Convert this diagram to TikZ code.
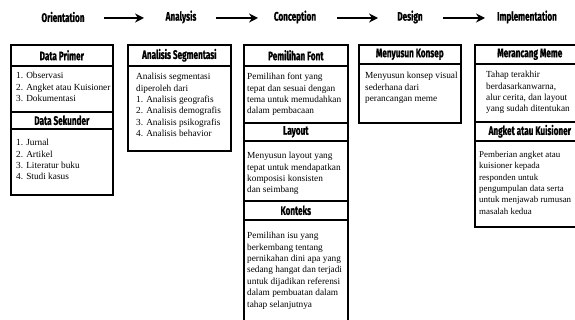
\documentclass[tikz,border=0pt]{standalone}
\usepackage{fontspec}
\setmainfont{Liberation Serif}
\newfontfamily\hdrfont[FakeStretch=0.66,FakeBold=0.8]{Fira Sans}
\usetikzlibrary{arrows.meta}
\tikzset{
  title/.style={font=\hdrfont\bfseries\fontsize{12.4}{13}\selectfont, inner sep=0pt},
  flow/.style={line width=2.2pt, -{Stealth[length=9pt,width=9pt,inset=3pt]}},
  hbox/.style={draw, line width=1.6pt, fill=white, anchor=north west, inner sep=0pt,
     font=\hdrfont\bfseries\fontsize{12.4}{13}\selectfont},
  bbox/.style={draw, line width=1.6pt, anchor=north west, inner sep=0pt},
  btext/.style={anchor=north west, inner sep=0pt, align=left,
     font=\fontsize{9.3}{11.4}\selectfont},
}
\begin{document}
\begin{tikzpicture}[x=1pt,y=-1pt]
\useasboundingbox (0,0) rectangle (575,320);
\clip (0,0) rectangle (575,320);
\fill[white] (0,0) rectangle (575,320);
% top flow
\node[title] (t1) at (63,17) {Orientation};
\node[title] (t2) at (181,17) {Analysis};
\node[title] (t3) at (295,17) {Conception};
\node[title] (t4) at (410,17) {Design};
\node[title] (t5) at (527,17) {Implementation};
\coordinate (a1s) at (104,18); \coordinate (a1e) at (144,18);
\coordinate (a2s) at (216,18); \coordinate (a2e) at (258,18);
\coordinate (a3s) at (337,18); \coordinate (a3e) at (378,18);
\coordinate (a4s) at (443,18); \coordinate (a4e) at (485,18);
\draw[flow] (a1s) -- (a1e);
\draw[flow] (a2s) -- (a2e);
\draw[flow] (a3s) -- (a3e);
\draw[flow] (a4s) -- (a4e);
% column 1
\node[bbox, minimum width=102pt, minimum height=46pt] (b1a) at (10,65) {};
\node[bbox, minimum width=102pt, minimum height=66pt] (b1b) at (10,128) {};
\node[hbox, minimum width=102pt, minimum height=21pt] (h1a) at (10,44) {Data Primer};
\node[hbox, minimum width=102pt, minimum height=17pt] (h1b) at (10,111) {Data Sekunder};
\node[btext] (x1a) at (16,72) {1. Observasi\\2. Angket atau Kuisioner\\3. Dokumentasi};
\node[btext] (x1b) at (16,139) {1. Jurnal\\2. Artikel\\3. Literatur buku\\4. Studi kasus};
% column 2
\node[bbox, minimum width=103pt, minimum height=85pt] (b2) at (127,65) {};
\node[hbox, minimum width=103pt, minimum height=21pt] (h2) at (127,44) {Analisis Segmentasi};
\node[btext] (x2) at (136,73) {Analisis segmentasi\\diperoleh dari\\1. Analisis geografis\\2. Analisis demografis\\3. Analisis psikografis\\4. Analisis behavior};
% column 3
\node[bbox, minimum width=104pt, minimum height=57pt] (b3a) at (243,65) {};
\node[bbox, minimum width=104pt, minimum height=60pt] (b3b) at (243,140) {};
\node[bbox, minimum width=104pt, minimum height=115pt] (b3c) at (243,219) {};
\node[hbox, minimum width=104pt, minimum height=21pt] (h3a) at (243,44) {Pemilihan Font};
\node[hbox, minimum width=104pt, minimum height=18pt] (h3b) at (243,122) {Layout};
\node[hbox, minimum width=104pt, minimum height=19pt] (h3c) at (243,200) {Konteks};
\node[btext] (x3a) at (247,73) {Pemilihan font yang\\tepat dan sesuai dengan\\tema untuk memudahkan\\dalam pembacaan};
\node[btext] (x3b) at (247,152) {Menyusun layout yang\\tepat untuk mendapatkan\\komposisi konsisten\\dan seimbang};
\node[btext] (x3c) at (247,232) {Pemilihan isu yang\\berkembang tentang\\pernikahan dini apa yang\\sedang hangat dan terjadi\\untuk dijadikan referensi\\dalam pembuatan dalam\\tahap selanjutnya};
% column 4
\node[bbox, minimum width=102pt, minimum height=59pt] (b4) at (358,63) {};
\node[hbox, minimum width=102pt, minimum height=19pt] (h4) at (358,44) {Menyusun Konsep};
\node[btext] (x4) at (365,72) {Menyusun konsep visual\\sederhana dari\\perancangan meme};
% column 5
\node[bbox, minimum width=110pt, minimum height=58pt] (b5a) at (474,63) {};
\node[bbox, minimum width=110pt, minimum height=86pt] (b5b) at (474,140) {};
\node[hbox, minimum width=110pt, minimum height=19pt] (h5a) at (474,44) {Merancang Meme};
\node[hbox, minimum width=110pt, minimum height=19pt] (h5b) at (474,121) {Angket atau Kuisioner};
\node[btext] (x5a) at (486,71) {Tahap terakhir\\berdasarkanwarna,\\alur cerita, dan layout\\yang sudah ditentukan};
\node[btext, font=\fontsize{8.9}{11.4}\selectfont] (x5b) at (479,151) {Pemberian angket atau\\kuisioner kepada\\responden untuk\\pengumpulan data serta\\untuk menjawab rumusan\\masalah kedua};
\end{tikzpicture}
\end{document}
